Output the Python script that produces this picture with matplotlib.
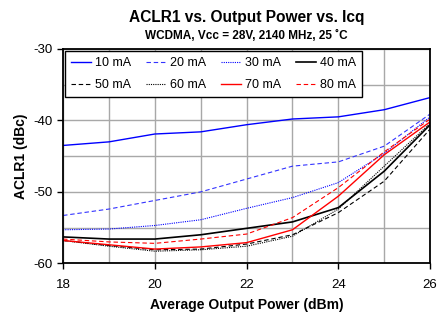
import matplotlib
matplotlib.use('Agg')
import matplotlib.pyplot as plt
from matplotlib.ticker import MultipleLocator

plt.rcParams['font.family'] = ['Liberation Sans', 'DejaVu Sans']
plt.rcParams['axes.unicode_minus'] = False

# output power (dBm)
pout = [18, 19, 20, 21, 22, 23, 24, 25, 26]

# ACLR1 (dBc) per quiescent current
aclr_10 = [-43.5, -43.0, -41.9, -41.6, -40.6, -39.8, -39.5, -38.5, -36.8]
aclr_20 = [-53.3, -52.4, -51.2, -50.0, -48.2, -46.4, -45.8, -43.6, -39.1]
aclr_30 = [-55.3, -55.2, -54.7, -53.9, -52.3, -50.8, -48.7, -44.6, -39.5]
aclr_40 = [-56.3, -56.6, -56.6, -56.0, -55.1, -54.2, -52.2, -47.1, -40.6]
aclr_50 = [-56.8, -57.5, -58.1, -58.0, -57.3, -56.0, -52.9, -48.5, -41.2]
aclr_60 = [-56.8, -57.6, -58.3, -58.1, -57.6, -56.2, -52.4, -46.4, -40.4]
aclr_70 = [-56.8, -57.4, -58.0, -57.7, -57.1, -55.3, -50.6, -44.8, -40.2]
aclr_80 = [-56.6, -57.0, -57.2, -56.6, -55.9, -53.6, -49.4, -44.4, -39.8]

labels = ['10 mA', '20 mA', '30 mA', '40 mA', '50 mA', '60 mA', '70 mA', '80 mA']

fig = plt.figure(figsize=(4.38, 3.2), dpi=100)
ax = fig.add_axes([0.144, 0.177, 0.838, 0.670])

dash = (0, (4, 2.5))
dot = (0, (1, 1))
lines = []
lines += ax.plot(pout, aclr_10, color='#0000ff', lw=1.0, ls='-', label=labels[0])
lines += ax.plot(pout, aclr_20, color='#3333ff', lw=0.8, ls=dash, label=labels[1])
lines += ax.plot(pout, aclr_30, color='#0000ff', lw=0.8, ls=dot, label=labels[2])
lines += ax.plot(pout, aclr_40, color='black', lw=1.2, ls='-', label=labels[3])
lines += ax.plot(pout, aclr_50, color='black', lw=0.8, ls=dash, label=labels[4])
lines += ax.plot(pout, aclr_60, color='black', lw=0.8, ls=dot, label=labels[5])
lines += ax.plot(pout, aclr_70, color='#ff0000', lw=1.0, ls='-', label=labels[6])
lines += ax.plot(pout, aclr_80, color='#ff0000', lw=0.8, ls=dash, label=labels[7])

ax.set_xlim(18, 26)
ax.set_ylim(-60, -30)
ax.xaxis.set_major_locator(MultipleLocator(2))
ax.xaxis.set_minor_locator(MultipleLocator(1))
ax.yaxis.set_major_locator(MultipleLocator(10))
ax.yaxis.set_minor_locator(MultipleLocator(5))
ax.grid(True, which='both', color='#a8a8a8', lw=1.0)
ax.set_axisbelow(True)
ax.tick_params(which='major', direction='out', length=4, width=1, labelsize=9.5, colors='black')
ax.tick_params(axis='x', which='major', pad=7)
ax.tick_params(which='minor', length=0)
for s in ax.spines.values():
    s.set_linewidth(1.3)

ax.set_xlabel('Average Output Power (dBm)', fontsize=10, fontweight='bold', labelpad=5)
ax.set_ylabel('ACLR1 (dBc)', fontsize=10, fontweight='bold', labelpad=4)

fig.text(0.563, 0.945, 'ACLR1 vs. Output Power vs. Icq', ha='center', va='center',
         fontsize=11.2, fontweight='bold')
fig.text(0.563, 0.888, 'WCDMA, Vcc = 28V, 2140 MHz, 25 \u02daC', ha='center', va='center',
         fontsize=8.5, fontweight='bold')

# legend fills column by column, so reorder to read row by row
order = [0, 4, 1, 5, 2, 6, 3, 7]
leg = ax.legend([lines[i] for i in order], [labels[i] for i in order],
                loc='upper left', ncol=4, fontsize=9, frameon=True, fancybox=False,
                edgecolor='black', framealpha=1, handlelength=1.6, handletextpad=0.3,
                columnspacing=1.2, borderaxespad=0.15, borderpad=0.5, labelspacing=0.8)
leg.get_frame().set_linewidth(1.0)

fig.savefig('out.png', dpi=100)
